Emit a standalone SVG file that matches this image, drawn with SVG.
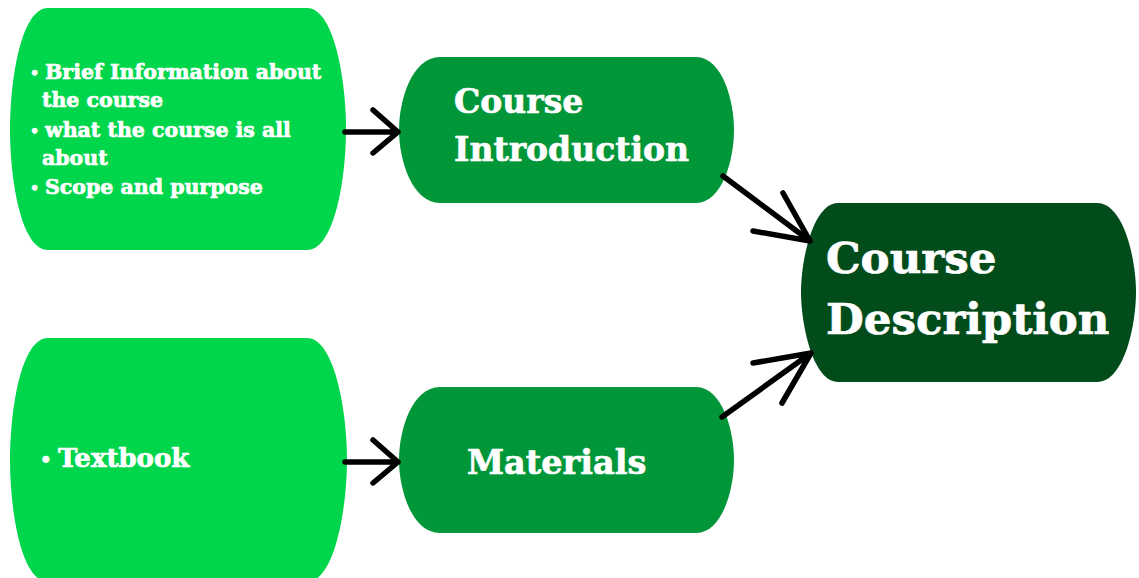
<svg xmlns="http://www.w3.org/2000/svg" width="1139" height="578" viewBox="0 0 1139 578">
<style>
.t{font-family:"DejaVu Serif","Liberation Serif",serif;font-weight:bold;fill:#ffffff;stroke:#ffffff;stroke-width:0.7;stroke-linejoin:round}
.b{font-size:0.7em}
.c{fill:none;stroke:#000;stroke-width:5.5;stroke-linecap:round;stroke-linejoin:round}
</style>
<rect width="1139" height="578" fill="#ffffff"/>
<g id="node-brief">
<path d="M48,8 H307 C334,8 346,80 346,129 C346,180 334,250 307,250 H48 C21,250 10,180 10,129 C10,80 21,8 48,8 Z" fill="#00d64b"/>
<text class="t" font-size="20.5"><tspan class="b" x="30" y="78">•</tspan><tspan x="45" y="79">Brief Information about</tspan><tspan x="42" y="107">the course</tspan><tspan class="b" x="30" y="136">•</tspan><tspan x="45" y="137">what the course is all</tspan><tspan x="42" y="165">about</tspan><tspan class="b" x="30" y="193">•</tspan><tspan x="45" y="194">Scope and purpose</tspan></text>
</g>
<g id="node-intro">
<path d="M440,57 H696 C722,57 734,100 734,130 C734,160 722,203 696,203 H440 C412,203 399,160 399,130 C399,100 412,57 440,57 Z" fill="#019739"/>
<text class="t" font-size="33"><tspan x="454" y="113">Course</tspan><tspan x="454" y="161">Introduction</tspan></text>
</g>
<g id="node-desc">
<path d="M838,203 H1097 C1124,203 1136,260 1136,292 C1136,325 1124,382 1097,382 H838 C813,382 801,325 801,292 C801,260 813,203 838,203 Z" fill="#024c1c"/>
<text class="t" font-size="43.5"><tspan x="826" y="273">Course</tspan><tspan x="826" y="334">Description</tspan></text>
</g>
<g id="node-textbook">
<path d="M48,338 H307 C334,338 347,410 347,460 C347,510 334,582 307,582 H48 C21,582 10,510 10,460 C10,410 21,338 48,338 Z" fill="#00d64b"/>
<text class="t" font-size="26"><tspan class="b" x="40" y="466">•</tspan><tspan x="58" y="467">Textbook</tspan></text>
</g>
<g id="node-materials">
<path d="M440,387 H696 C722,387 734,430 734,460 C734,490 722,533 696,533 H440 C412,533 399,490 399,460 C399,430 412,387 440,387 Z" fill="#019739"/>
<text class="t" font-size="33.5" x="467" y="474">Materials</text>
</g>
<g id="connectors">
<path class="c" d="M345,132 H398 M373,110 L398,132 L373,153"/>
<path class="c" d="M345,462 H398 M373,440 L398,462 L373,483"/>
<path class="c" d="M723,176 L810,241 M783,193 L810,241 L753,231"/>
<path class="c" d="M722,417 L811,353 M753,363 L811,353 L782,403"/>
</g>
</svg>
